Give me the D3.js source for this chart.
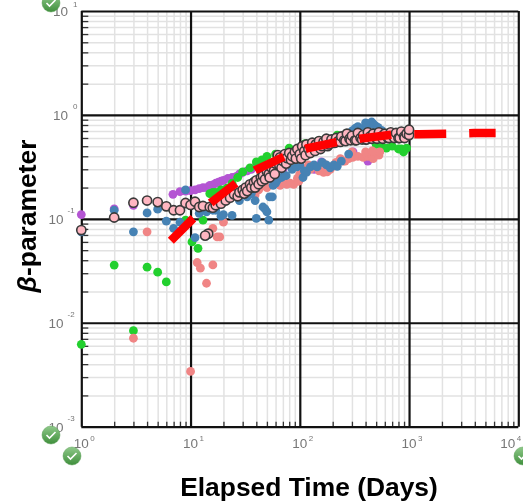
<!DOCTYPE html>
<html>
<head>
<meta charset="utf-8">
<script src="https://cdn.jsdelivr.net/npm/d3@7"></script>
<style>
  html, body { margin: 0; padding: 0; background: #fff; }
  svg { display: block; font-family: "Liberation Sans", Arial, sans-serif; filter: blur(0.45px); }
</style>
</head>
<body>
<div id="chart"></div>
<script>
// values: [elapsed days, beta]
const xDecades = [1, 10, 100, 1000, 10000]
const yDecades = [0.001, 0.01, 0.1, 1, 10]
const xExponents = ['0', '1', '2', '3', '4']
const yExponents = ['-3', '-2', '-1', '0', '1']

const purple = [[1,.11],[2,.125],[3,.135],[6.9,.172],[8,.183],[9,.185],[10,.187],[11,.19],[12,.195],[13,.2],[14,.2],[15,.21],[16,.212],[17,.22],[18,.225],[19,.23],[20,.235],[22,.245],[24,.25],[26,.255],[28,.27],[30,.28],[33,.29],[36,.3],[40,.32],[158,.353],[307,.44],[420,.36],[135,.3],[70,.3]]

const green = [[1,.0062],[3,.0084],[2,.0359],[4,.0343],[5,.0307],[6,.0247],[9,.097],[10.3,.06],[11.7,.052],[13,.097],[15,.175],[16,.18],[17,.18],[19,.19],[21.5,.197],[24,.22],[27,.25],[30,.283],[35,.31],[40,.353],[45,.37],[50,.4],[60,.42],[80,.48],[112,.53],[150,.57],[220,.64],[300,.6],[500,.52],[560,.5],[620,.48],[700,.5],[800,.47],[850,.47],[890,.44],[950,.48]]

const salmon = [[4,.075],[3,.0071],[10,.0034],[11.5,.038],[12.3,.0335],[14,.024],[16,.036],[16,.081],[17.5,.067],[18.5,.067],[20,.093],[39,.17],[46,.21],[42,.19],[50,.2],[62,.22],[66,.21],[70,.22],[72,.225],[76,.215],[82,.22],[88,.215],[95,.245],[98,.23],[100,.27],[103,.29],[110,.3],[125,.3],[135,.32],[150,.29],[165,.28],[178,.283],[190,.3],[200,.32],[215,.35],[235,.38],[250,.36],[260,.36],[280,.38],[305,.39],[340,.4],[380,.39],[420,.4],[470,.38],[510,.43],[530,.41],[540,.44],[120,.33],[165,.34],[215,.33],[300,.44],[400,.44],[460,.45]]

const blue = [[1,.075],[2,.121],[3,.075],[4,.114],[5,.124],[6,.095],[7,.081],[8,.093],[9,.19],[11,.066],[12,.113],[14,.117],[16,.121],[17,.121],[19,.106],[20,.11],[24,.108],[28,.15],[33,.163],[36,.175],[39,.15],[40,.101],[46,.13],[48,.125],[50,.117],[52,.097],[53,.163],[56,.163],[57,.21],[60,.22],[62,.235],[68,.25],[75,.26],[85,.3],[94,.316],[100,.33],[107,.25],[110,.29],[115,.28],[125,.316],[135,.33],[144,.316],[160,.35],[175,.33],[190,.31],[205,.33],[220,.32],[240,.36],[280,.42],[300,.7],[320,.74],[340,.77],[360,.72],[380,.74],[410,.77],[455,.855],[470,.82],[490,.79],[520,.76],[560,.71],[430,.82],[330,.68],[420,.7],[400,.84]]

const pink = [[1,.078],[2,.103],[3,.143],[4,.15],[5,.145],[6,.132],[7,.121],[8,.121],[9,.142],[10,.136],[11,.146],[12,.13],[13,.133],[15,.13],[16,.128],[14.5,.072],[13.6,.069],[17,.135],[19,.14],[21,.15],
  [23,.16],[25,.172],[27,.165],[28,.18],[30,.19],[31,.175],[32,.2],[33,.185],[35,.215],[36,.2],[38,.225],[39,.2],[40,.235],[42,.215],[44,.25],[45,.23],[46,.26],[48,.24],[50,.285],[52,.27],[53,.25],[55,.31],[58,.29],[59,.27],[60,.34],[63,.41],[65,.33],[66,.39],[68,.31],[70,.36],[73,.42],[75,.34],[76,.385],[80,.43],[83,.37],[85,.4],[90,.44],[92,.38],[95,.47],[100,.42],
  [103,.38],[105,.5],[110,.45],[113,.41],[115,.52],[120,.47],[125,.43],[130,.54],[135,.48],[138,.45],[140,.52],[150,.56],[155,.47],[160,.5],[165,.55],[175,.59],[180,.5],[185,.52],[195,.58],[205,.54],[210,.54],[215,.6],[225,.56],[235,.55],[240,.62],[255,.57],[262,.56],[270,.66],[285,.59],[292,.57],[300,.63],[320,.57],[330,.57],[340,.67],[360,.6],[372,.58],[380,.64],[400,.58],[410,.58],[420,.68],[440,.62],[455,.59],[470,.66],[500,.6],[510,.59],[530,.68],[560,.62],[575,.59],[600,.66],[640,.6],[655,.6],[680,.68],[720,.62],[735,.6],[760,.67],[800,.6],[820,.6],[850,.69],[900,.62],[910,.6],[950,.66],[1000,.64],[1000,.72]]

const model = [[6.6,.0614],[10.4,.0993],[15.3,.1425],[26,.22],[39,.294],[73,.40],[116,.476],[223,.55],[370,.595],[715,.648],[1220,.653],[2390,.66],[3950,.67],[6200,.67]]

const width = 523, height = 502

const x = d3.scaleLog().domain([1, 10000]).range([81.3, 518.3])
const y = d3.scaleLog().domain([0.001, 10]).range([426.7, 11])

const svg = d3.select('#chart').append('svg')
  .attr('width', width)
  .attr('height', height)

const defs = svg.append('defs')
const grad = defs.append('linearGradient').attr('id', 'badge').attr('x1', 0).attr('y1', 0).attr('x2', 0).attr('y2', 1)
grad.append('stop').attr('offset', '0%').attr('stop-color', '#8fc98a')
grad.append('stop').attr('offset', '100%').attr('stop-color', '#3f8f3c')

// every 2..9 between decades
const minor = decades => decades.slice(0, -1).flatMap(d => d3.range(2, 10).map(k => d * k))
const xMinor = minor(xDecades)
const yMinor = minor(yDecades)

// light grid
svg.append('g').attr('class', 'x-grid')
  .attr('transform', 'translate(0,426.7)')
  .call(d3.axisBottom(x).tickValues(xMinor).tickSize(-415.7).tickFormat(''))
  .call(g => g.select('.domain').remove())
  .selectAll('line').attr('stroke', '#e2e2e2').attr('stroke-width', 1.5)

svg.append('g').attr('class', 'y-grid')
  .attr('transform', 'translate(81.3,0)')
  .call(d3.axisLeft(y).tickValues(yMinor).tickSize(-437).tickFormat(''))
  .call(g => g.select('.domain').remove())
  .selectAll('line').attr('stroke', '#e2e2e2').attr('stroke-width', 1.5)

// short dark ticks inside the frame
svg.append('g')
  .attr('transform', 'translate(0,426.7)')
  .call(d3.axisBottom(x).tickValues(xMinor).tickSize(-5).tickFormat(''))
  .call(g => g.select('.domain').remove())
  .selectAll('line').attr('stroke', '#333').attr('stroke-width', 1.3)

svg.append('g')
  .attr('transform', 'translate(81.3,0)')
  .call(d3.axisLeft(y).tickValues(yMinor).tickSize(-7).tickFormat(''))
  .call(g => g.select('.domain').remove())
  .selectAll('line').attr('stroke', '#333').attr('stroke-width', 1.3)

// major lines
svg.append('g')
  .attr('transform', 'translate(0,426.7)')
  .call(d3.axisBottom(x).tickValues(xDecades).tickSize(-415.7).tickFormat(''))
  .call(g => g.select('.domain').remove())
  .selectAll('line').attr('stroke', '#111').attr('stroke-width', 2.2)

svg.append('g')
  .attr('transform', 'translate(81.3,0)')
  .call(d3.axisLeft(y).tickValues(yDecades).tickSize(-437).tickFormat(''))
  .call(g => g.select('.domain').remove())
  .selectAll('line').attr('stroke', '#111').attr('stroke-width', 2.2)

// tick labels, the last one pulled in so it stays on the page
const xLabels = svg.append('g').selectAll('text').data(xDecades).enter().append('text')
  .attr('x', (d, i) => i < 4 ? x(d) - 7.5 : x(d) - 18)
  .attr('y', 448)
  .attr('font-size', 13.5)
  .attr('fill', '#777')
  .text('10')
xLabels.append('tspan').attr('dx', 1.5).attr('dy', -7).attr('font-size', 8)
  .text((d, i) => xExponents[i])

const yLabels = svg.append('g').selectAll('text').data(yDecades).enter().append('text')
  .attr('x', (d, i) => i < 3 ? 48.5 : 53)
  .attr('y', d => y(d) + 5)
  .attr('font-size', 13.5)
  .attr('fill', '#777')
  .text('10')
yLabels.append('tspan').attr('dx', (d, i) => i < 3 ? 4 : 5).attr('dy', (d, i) => i < 4 ? -11 : -9).attr('font-size', 8)
  .text((d, i) => yExponents[i])

// scatter series
const drawSeries = function(data, color) {
  svg.append('g').selectAll('circle').data(data).enter().append('circle')
    .attr('cx', d => x(d[0]))
    .attr('cy', d => y(d[1]))
    .attr('r', 4.4)
    .attr('fill', color)
}
drawSeries(purple, '#b455d3')
drawSeries(green, '#22d02e')
drawSeries(salmon, '#f08585')
drawSeries(blue, '#4682b4')

svg.append('g').selectAll('circle').data(pink).enter().append('circle')
  .attr('cx', d => x(d[0]))
  .attr('cy', d => y(d[1]))
  .attr('r', 4.6)
  .attr('fill', '#ffb6c1')
  .attr('stroke', '#3a3a3a')
  .attr('stroke-width', 1.6)

// dashed model line
const line = d3.line().x(d => x(d[0])).y(d => y(d[1]))
svg.append('path')
  .datum(model)
  .attr('d', line)
  .attr('fill', 'none')
  .attr('stroke', '#ff0000')
  .attr('stroke-width', 8.5)
  .attr('stroke-dasharray', '32 23')

// axis titles
svg.append('text')
  .attr('x', 309)
  .attr('y', 496)
  .attr('text-anchor', 'middle')
  .attr('font-size', 26.4)
  .attr('font-weight', 'bold')
  .attr('fill', '#000')
  .text('Elapsed Time (Days)')

const yTitle = svg.append('text')
  .attr('transform', 'translate(36,216) rotate(-90)')
  .attr('text-anchor', 'middle')
  .attr('font-size', 26.4)
  .attr('font-weight', 'bold')
  .attr('fill', '#000')
yTitle.append('tspan').attr('font-style', 'italic').text('β')
yTitle.append('tspan').text('-parameter')

// green check badges sitting on the picture
const badges = [[51, 3], [51, 435], [72, 456], [523, 456]]
const badge = svg.append('g').selectAll('g').data(badges).enter().append('g')
  .attr('transform', d => `translate(${d[0]},${d[1]})`)
badge.append('circle').attr('r', 9).attr('fill', 'url(#badge)').attr('stroke', '#5a9e57').attr('stroke-width', 0.5)
badge.append('path')
  .attr('d', 'M-4.5,0 L-1.5,3 L4.5,-3')
  .attr('fill', 'none')
  .attr('stroke', '#fff')
  .attr('stroke-width', 1.6)
</script>
</body>
</html>
